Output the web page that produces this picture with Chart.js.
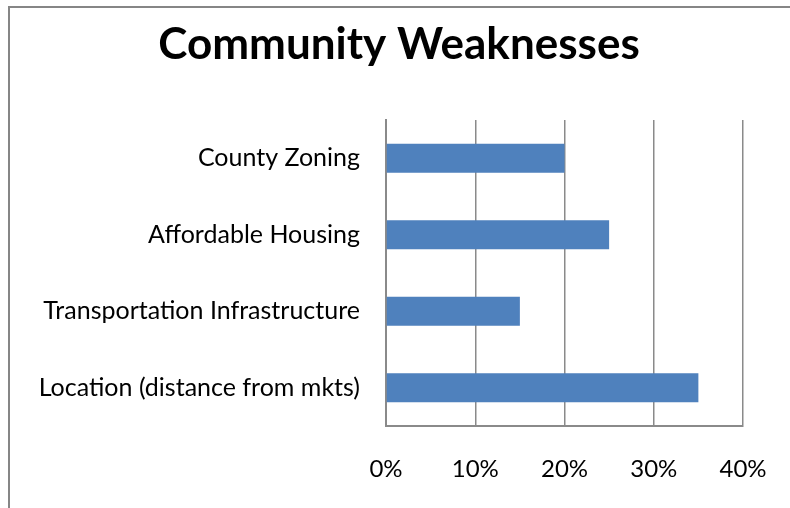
<!DOCTYPE html>
<html>
<head>
<meta charset="utf-8">
<script src="https://cdn.jsdelivr.net/npm/chart.js@4/dist/chart.umd.min.js"></script>
<style>
  body { margin: 0; background: #fff; }
  #wrap { position: relative; width: 790px; height: 508px; overflow: hidden; }
  #frame { position: absolute; left: 8px; top: 6px; width: 800px; height: 520px;
           border-left: 2px solid #868686; border-top: 2px solid #868686; }
  canvas { position: absolute; left: 0; top: 0; }
</style>
</head>
<body>
<div id="wrap">
  <div id="frame"></div>
  <canvas id="weakChart" width="790" height="508"></canvas>
</div>
<script>
// chart data
const chartTitle = 'Community Weaknesses';
const categories = ['County Zoning', 'Affordable Housing', 'Transportation Infrastructure', 'Location (distance from mkts)'];
const shares = [20, 25, 15, 35];
const tickLabels = ['0%', '10%', '20%', '30%', '40%'];

const fontFamily = 'Lato, "Open Sans", sans-serif';
const gridGray = '#8a8a8a';

// title is centred on the whole frame, not on the plot, so draw it by hand
const titlePlugin = {
    id: 'frameTitle',
    afterDraw: function (chart) {
        const c = chart.ctx;
        c.save();
        c.font = 'bold 44px ' + fontFamily;
        c.fillStyle = '#000';
        c.textAlign = 'center';
        c.textBaseline = 'middle';
        c.fillText(chartTitle, 399, 45);
        c.restore();
    }
};

const ctx = document.getElementById('weakChart').getContext('2d');
const weakChart = new Chart(ctx, {
    type: 'bar',
    data: {
        labels: categories,
        datasets: [{
            label: chartTitle,
            data: shares,
            backgroundColor: '#4f81bd',
            borderWidth: 0,
            barPercentage: 0.38,
            categoryPercentage: 1
        }]
    },
    plugins: [titlePlugin],
    options: {
        indexAxis: 'y',
        responsive: false,
        animation: false,
        layout: { padding: { left: 0, right: 47, top: 120, bottom: 0 } },
        plugins: {
            legend: { display: false },
            tooltip: { enabled: false },
            title: { display: false }
        },
        scales: {
            x: {
                min: 0,
                max: 40,
                ticks: {
                    stepSize: 10,
                    color: '#000',
                    padding: 29,
                    font: { family: fontFamily, size: 24 },
                    callback: function (value) {
                        return tickLabels[value / 10];
                    }
                },
                grid: { color: gridGray, lineWidth: 1.5, drawTicks: false },
                border: { display: true, color: gridGray, width: 2 },
                afterFit: function (scale) {
                    scale.height = 82;
                    scale.paddingLeft = 0;
                    scale.paddingRight = 0;
                }
            },
            y: {
                ticks: {
                    color: '#000',
                    padding: 26,
                    font: { family: fontFamily, size: 25 }
                },
                grid: { display: false, drawTicks: false },
                border: { display: true, color: gridGray, width: 2 },
                afterFit: function (scale) {
                    scale.width = 386;
                    scale.paddingTop = 0;
                    scale.paddingBottom = 0;
                }
            }
        }
    }
});
</script>
</body>
</html>
